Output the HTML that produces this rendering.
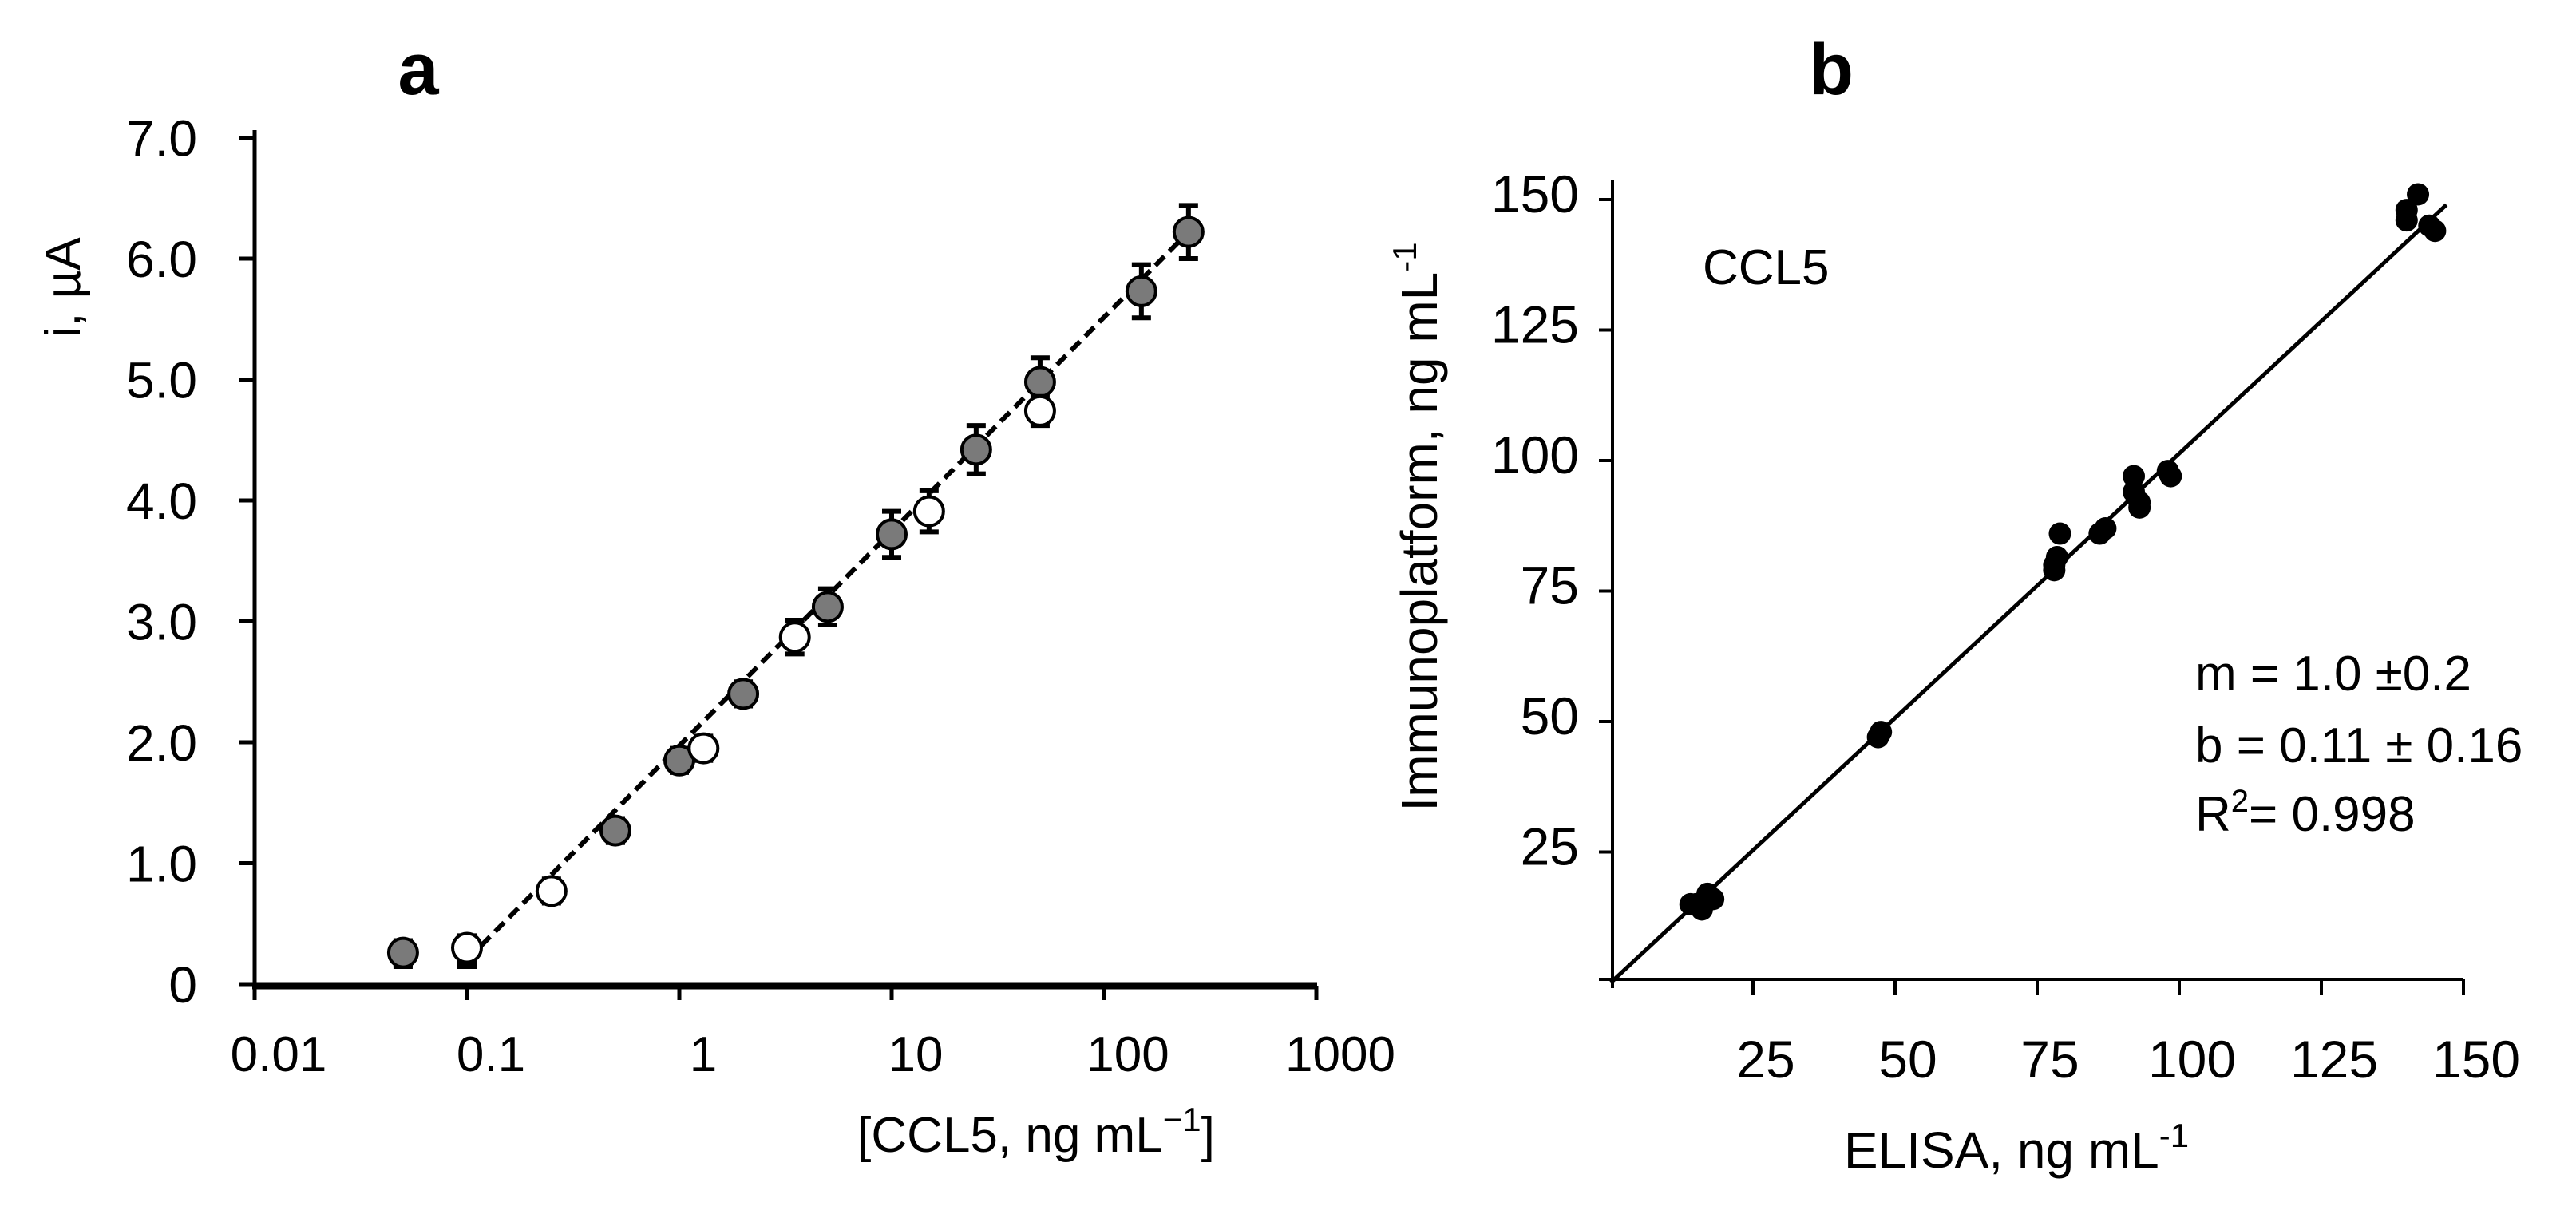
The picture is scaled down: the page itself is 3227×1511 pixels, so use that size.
<!DOCTYPE html>
<html><head><meta charset="utf-8">
<style>
html,body{margin:0;padding:0;background:#fff;}
svg{display:block;font-family:"Liberation Sans",sans-serif;}
</style></head>
<body>
<svg id="fig" width="3227" height="1511" viewBox="0 0 3227 1511" xmlns="http://www.w3.org/2000/svg">
<rect width="3227" height="1511" fill="#fff"/>
<g id="pa"></g>
<g id="pb"></g>
</svg>
<script>
// ---- Panel a data ----
const aTicksX = [0.01, 0.1, 1, 10, 100, 1000];
const aTickLabelsX = ["0.01", "0.1", "1", "10", "100", "1000"];
const aTicksY = [0, 1, 2, 3, 4, 5, 6, 7];
const aTickLabelsY = ["0", "1.0", "2.0", "3.0", "4.0", "5.0", "6.0", "7.0"];
const grayConc = [0.05, 0.5, 1, 2, 5, 10, 25, 50, 150, 250];
const grayI = [0.26, 1.27, 1.85, 2.40, 3.12, 3.72, 4.42, 4.98, 5.73, 6.22];
const grayErr = [0.1, 0.1, 0.1, 0.1, 0.15, 0.19, 0.2, 0.2, 0.22, 0.22];
const openConc = [0.1, 0.25, 1.3, 3.5, 15, 50];
const openI = [0.30, 0.77, 1.95, 2.87, 3.91, 4.74];
const openErr = [0.1, 0.1, 0.1, 0.14, 0.17, 0.12];
const fitConc = [0.1, 250];
const fitI = [0.20, 6.22];
// ---- Panel b data ----
const bTicks = [25, 50, 75, 100, 125, 150];
const bTickLabels = ["25", "50", "75", "100", "125", "150"];
const elisa = [14, 15, 16, 17, 18, 47, 47.5, 78, 78, 78.5, 79, 86, 87, 92, 92, 93, 93, 98, 98.5, 140, 140, 142, 144, 145];
const immuno = [15, 15, 14, 17, 16, 47, 48, 79, 80, 81.5, 86, 86, 87, 94, 97, 91, 92, 98, 97, 148, 146, 151, 145, 144];
const fitB_x = [0, 147];
const fitB_y = [0, 149];

const NS = "http://www.w3.org/2000/svg";
function mk(parent, tag, attrs, text) {
  const e = document.createElementNS(NS, tag);
  for (const k in attrs) e.setAttribute(k, attrs[k]);
  if (text !== undefined) e.textContent = text;
  parent.appendChild(e);
  return e;
}
const ax = c => 319 + 266 * (Math.log10(c) + 2);
const ay = v => 1233 - 151.5 * v;
const bx = v => 2018 + 7.12 * v;
const by = v => 1231 - 6.54 * v;

const pa = document.getElementById('pa');
const pb = document.getElementById('pb');

// ----- Panel a -----
let t = mk(pa, 'text', {x: 524, y: 118, 'font-size': 92, 'font-weight': 'bold', 'text-anchor': 'middle'}, 'a');



let l = mk(pa, 'line', {x1: 319, y1: 163, x2: 319, y2: 1238, stroke: '#000', 'stroke-width': 5});


l = mk(pa, 'line', {x1: 316, y1: 1235, x2: 1650, y2: 1235, stroke: '#000', 'stroke-width': 9});



aTicksY.forEach((v, i) => {
  const tk = mk(pa, 'line', {x1: 299, y1: ay(v), x2: 319, y2: ay(v), stroke: '#000', 'stroke-width': 5});
  
  
  const lb = mk(pa, 'text', {x: 247, y: ay(v) + 23, 'font-size': 64, 'text-anchor': 'end'}, aTickLabelsY[i]);
  
  
});
aTicksX.forEach((c, i) => {
  const tk = mk(pa, 'line', {x1: ax(c), y1: 1235, x2: ax(c), y2: 1253, stroke: '#000', 'stroke-width': 5});
  
  
  const lb = mk(pa, 'text', {x: ax(c) + 30, y: 1342, 'font-size': 62, 'text-anchor': 'middle'}, aTickLabelsX[i]);
  
  
});
t = mk(pa, 'text', {x: 1298, y: 1443, 'font-size': 62, 'text-anchor': 'middle'});
t.innerHTML = '[CCL5, ng mL<tspan dy="-26" font-size="42">−1</tspan><tspan dy="26">]</tspan>';


t = mk(pa, 'text', {x: 0, y: 0, 'font-size': 62, 'text-anchor': 'middle', transform: 'translate(100,360) rotate(-90)'}, 'i, µA');



l = mk(pa, 'line', {x1: ax(fitConc[0]), y1: ay(fitI[0]), x2: ax(fitConc[1]), y2: ay(fitI[1]), stroke: '#000', 'stroke-width': 6, 'stroke-dasharray': '16,9'});



function errBar(g, x, v, e) {
  const y1 = ay(v + e), y2 = ay(v - e);
  const eb = mk(g, 'path', {d: `M${x},${y1}V${y2}M${x-12},${y1}H${x+12}M${x-12},${y2}H${x+12}`, stroke: '#000', 'stroke-width': 6, fill: 'none'});
  
  
}
[0, 1].forEach(i => {
  const c = i === 0 ? grayConc[0] : openConc[0];
  const sq = mk(pa, 'rect', {x: ax(c) - 12, y: 1196, width: 24, height: 18, fill: '#000'});
  
  
});
grayConc.forEach((c, i) => {
  errBar(pa, ax(c), grayI[i], grayErr[i]);
  const p = mk(pa, 'circle', {cx: ax(c), cy: ay(grayI[i]), r: 18, fill: '#7a7a7a', stroke: '#000', 'stroke-width': 4});
  
  
});
openConc.forEach((c, i) => {
  errBar(pa, ax(c), openI[i], openErr[i]);
  const p = mk(pa, 'circle', {cx: ax(c), cy: ay(openI[i]), r: 18, fill: '#fff', stroke: '#000', 'stroke-width': 4});
  
  
});

// ----- Panel b -----
t = mk(pb, 'text', {x: 2294, y: 118, 'font-size': 92, 'font-weight': 'bold', 'text-anchor': 'middle'}, 'b');


l = mk(pb, 'line', {x1: 2020, y1: 226, x2: 2020, y2: 1238, stroke: '#000', 'stroke-width': 4});


l = mk(pb, 'line', {x1: 2003, y1: 1227, x2: 3085, y2: 1227, stroke: '#000', 'stroke-width': 4});


bTicks.forEach((v, i) => {
  const tk = mk(pb, 'line', {x1: 2003, y1: by(v), x2: 2020, y2: by(v), stroke: '#000', 'stroke-width': 4});
  
  
  const lb = mk(pb, 'text', {x: 1978, y: by(v) + 16, 'font-size': 66, 'text-anchor': 'end'}, bTickLabels[i]);
  
  
});
bTicks.forEach((v, i) => {
  const tk = mk(pb, 'line', {x1: bx(v), y1: 1227, x2: bx(v), y2: 1247, stroke: '#000', 'stroke-width': 4});
  
  
  const lb = mk(pb, 'text', {x: bx(v) + 16, y: 1350, 'font-size': 66, 'text-anchor': 'middle'}, bTickLabels[i]);
  
  
});
t = mk(pb, 'text', {x: 2526, y: 1463, 'font-size': 64, 'text-anchor': 'middle'});
t.innerHTML = 'ELISA, ng mL<tspan dy="-26" font-size="42">-1</tspan>';


t = mk(pb, 'text', {x: 0, y: 0, 'font-size': 64, 'text-anchor': 'middle', transform: 'translate(1800,660) rotate(-90)'});
t.innerHTML = 'Immunoplatform,  ng mL<tspan dy="-26" font-size="42">-1</tspan>';


t = mk(pb, 'text', {x: 2133, y: 356, 'font-size': 62}, 'CCL5');


t = mk(pb, 'text', {x: 2750, y: 865, 'font-size': 62}, 'm = 1.0 ±0.2');


t = mk(pb, 'text', {x: 2750, y: 955, 'font-size': 62}, 'b = 0.11 ± 0.16');


t = mk(pb, 'text', {x: 2750, y: 1041, 'font-size': 62});
t.innerHTML = 'R<tspan dy="-24" font-size="40">2</tspan><tspan dy="24">= 0.998</tspan>';



l = mk(pb, 'line', {x1: bx(fitB_x[0]), y1: by(fitB_y[0]), x2: bx(fitB_x[1]), y2: by(fitB_y[1]), stroke: '#000', 'stroke-width': 5});


elisa.forEach((v, i) => {
  const p = mk(pb, 'circle', {cx: bx(v), cy: by(immuno[i]), r: 14, fill: '#000'});
  
  
});
</script>
</body></html>
